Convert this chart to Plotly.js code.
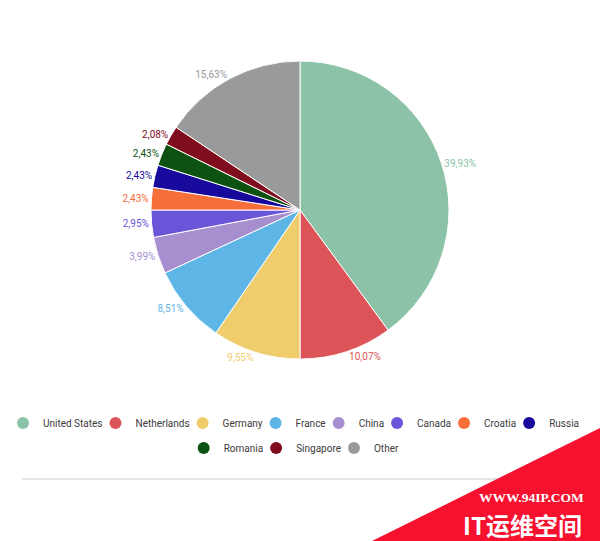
<!DOCTYPE html>
<html>
<head>
<meta charset="utf-8">
<script src="https://cdn.plot.ly/plotly-3.0.1.min.js"></script>
<style>html,body{margin:0;padding:0;background:#fff;}#chart{width:600px;height:541px;}</style>
</head>
<body>
<div id="chart"></div>
<script>
var countries = ["United States","Netherlands","Germany","France","China","Canada","Croatia","Russia","Romania","Singapore","Other"];
var shares = [39.93, 10.07, 9.55, 8.51, 3.99, 2.95, 2.43, 2.43, 2.43, 2.08, 15.63];
var colors = ["#8cc3a8","#dc5457","#efcd6d","#5db6e5","#a78fcf","#6a55d9","#f66f3a","#16099c","#0d5211","#800d1e","#9a9a9a"];
var legendRows = [[0,1,2,3,4,5,6,7],[8,9,10]];
var labelTexts = shares.map(function(v){ return v.toFixed(2).replace('.', ',') + '%'; });

var traces = [{
  type: 'pie',
  labels: countries,
  values: shares,
  text: labelTexts,
  textinfo: 'text',
  textposition: 'outside',
  sort: false,
  direction: 'clockwise',
  rotation: 0,
  showlegend: false,
  hoverinfo: 'label+text',
  marker: {colors: colors, line: {color: '#ffffff', width: 1}},
  outsidetextfont: {family: 'Roboto', size: 10, color: colors},
  domain: {x: [0.25, 0.75], y: [1 - 359/541, 1 - 61/541]}
}];

// legend layout: each entry is its own legend so rows can be centred with natural widths
var W = 600, H = 541;
var ctx = document.createElement('canvas').getContext('2d');
ctx.font = '10px Roboto';
var PLOTLY_TEXT_OFFSET = 40, MARK_TO_TEXT = 20, MARK_R = 6, GAP = 7, ROW_CENTER = 298;
var rowY = [423, 448];
var layoutLegends = {};
var legendFont = {family: 'Roboto', size: 10, color: '#3c3c3c'};
var legendCount = 0;
legendRows.forEach(function(row, r){
  var widths = row.map(function(i){ return ctx.measureText(countries[i]).width; });
  var step = GAP + MARK_R + MARK_TO_TEXT;
  var total = MARK_R + MARK_TO_TEXT;
  widths.forEach(function(w, k){ total += w + (k < widths.length - 1 ? step : 0); });
  var tx = ROW_CENTER - total / 2 + MARK_R + MARK_TO_TEXT;
  row.forEach(function(i, k){
    legendCount++;
    var key = legendCount === 1 ? 'legend' : 'legend' + legendCount;
    layoutLegends[key] = {
      orientation: 'h', x: (tx - PLOTLY_TEXT_OFFSET) / W, xanchor: 'left',
      y: 1 - rowY[r] / H, yanchor: 'middle', font: legendFont, itemwidth: 30,
      bgcolor: 'rgba(0,0,0,0)', borderwidth: 0, itemclick: false, itemdoubleclick: false
    };
    traces.push({
      type: 'scatter', mode: 'markers', x: [null], y: [null], name: countries[i],
      marker: {symbol: 'circle', size: 12, color: colors[i]},
      showlegend: true, hoverinfo: 'skip', legend: key
    });
    tx += widths[k] + step;
  });
});

var layout = {
  width: W, height: H,
  margin: {l: 0, r: 0, t: 0, b: 0},
  paper_bgcolor: '#fff', plot_bgcolor: '#fff',
  xaxis: {visible: false}, yaxis: {visible: false},
  shapes: [
    {type: 'line', xref: 'paper', yref: 'paper', x0: 22/W, x1: 578/W, y0: 1 - 479/H, y1: 1 - 479/H,
     line: {color: '#e4e4e4', width: 2}},
    {type: 'path', xref: 'paper', yref: 'paper',
     path: 'M ' + (372/W) + ' 0 L 1 ' + (1 - 428/H) + ' L 1 0 Z',
     fillcolor: '#f6112e', line: {width: 0}}
  ],
  annotations: [
    {xref: 'paper', yref: 'paper', x: 531.5/W, y: 1 - 497/H, xanchor: 'center', yanchor: 'middle',
     text: '<b>WWW.94IP.COM</b>', showarrow: false,
     font: {family: 'Liberation Serif', size: 13.5, color: '#ffffff'}},
    {xref: 'paper', yref: 'paper', x: 522.5/W, y: 1 - 524/H, xanchor: 'center', yanchor: 'middle',
     text: '<b>IT运维空间</b>', showarrow: false,
     font: {family: 'Noto Sans CJK SC', size: 24, color: '#ffffff'}}
  ],
  showlegend: true
};
Object.keys(layoutLegends).forEach(function(k){ layout[k] = layoutLegends[k]; });

Plotly.newPlot('chart', traces, layout, {displayModeBar: false, staticPlot: true});
</script>
</body>
</html>
